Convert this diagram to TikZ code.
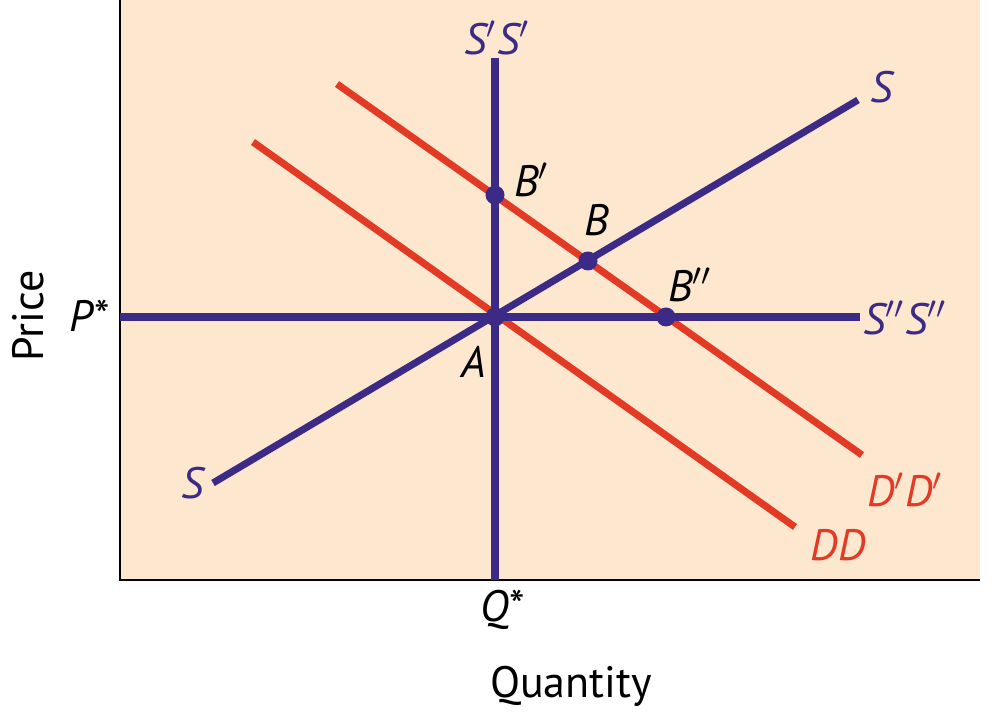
\documentclass[tikz,border=0pt]{standalone}
\usepackage{fontspec}
\setmainfont{PT Sans}
\definecolor{peach}{HTML}{FDE7CF}
\definecolor{supplycol}{HTML}{3B2A86}
\definecolor{demandcol}{HTML}{E23A25}
\newcommand{\pr}{\ensuremath{'}}
\newcommand{\ppr}{\ensuremath{''}}

\begin{document}
\begin{tikzpicture}[x=0.01cm,y=-0.01cm,
    supplyline/.style={supplycol,line width=2pt},
    demandline/.style={demandcol,line width=2pt},
    eqpt/.style={circle,fill=supplycol,inner sep=0pt,minimum size=0.19cm},
    curvelbl/.style={font=\itshape\fontsize{12.5}{12.5}\selectfont},
    ptlbl/.style={font=\itshape\fontsize{12.5}{12.5}\selectfont,text=black},
    axislbl/.style={font=\fontsize{12.5}{12.5}\selectfont}]
    \useasboundingbox (0,0) rectangle (1000,713);
    \fill[peach] (120,0) rectangle (980,580);
    \draw[black,line width=0.6pt] (120,0) -- (120,580) -- (980,580); % axes

    % end points of the curves
    \coordinate (sv1) at (495,58);  \coordinate (sv2) at (495,580);
    \coordinate (sh1) at (120,317); \coordinate (sh2) at (860,317);
    \coordinate (s1) at (213,483);  \coordinate (s2) at (858,100);
    \coordinate (d1) at (253,142);  \coordinate (d2) at (795,527);
    \coordinate (dd1) at (337,84);  \coordinate (dd2) at (862,455);

    \draw[demandline] (d1) -- (d2);
    \draw[demandline] (dd1) -- (dd2);
    \draw[supplyline] (sv1) -- (sv2);
    \draw[supplyline] (sh1) -- (sh2);
    \draw[supplyline] (s1) -- (s2);

    % equilibrium points
    \node[eqpt] (A) at (495,317) {};
    \node[eqpt] (Bp) at (495,195) {};
    \node[eqpt] (B) at (588,261) {};
    \node[eqpt] (Bpp) at (666,317) {};

    \node[curvelbl,text=supplycol] at (497,38) {S\pr S\pr};
    \node[curvelbl,text=supplycol] at (882,87) {S};
    \node[curvelbl,text=supplycol] at (905,318) {S\ppr S\ppr};
    \node[curvelbl,text=supplycol] at (193,483) {S};
    \node[curvelbl,text=demandcol] at (905,490) {D\pr D\pr};
    \node[curvelbl,text=demandcol] at (838,545) {DD};

    \node[ptlbl] at (474,362) {A};
    \node[ptlbl] at (532,180) {B\pr};
    \node[ptlbl] at (597,220) {B};
    \node[ptlbl] at (690,285) {B\ppr};

    \node[axislbl] at (90,316) {\textit{P}*};
    \node[axislbl] at (503,610) {\textit{Q}*};
    \node[axislbl] at (571,686) {Quantity};
    \node[axislbl,rotate=90] at (28,316) {Price};
\end{tikzpicture}
\end{document}
